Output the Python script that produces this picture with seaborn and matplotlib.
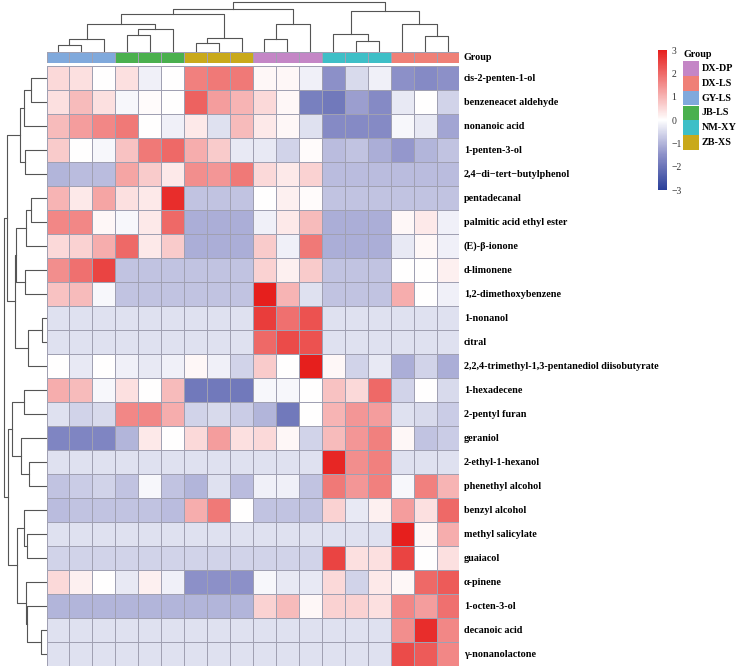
import numpy as np
import pandas as pd
import matplotlib
matplotlib.use("Agg")
import matplotlib.pyplot as plt
from matplotlib.colors import LinearSegmentedColormap, ListedColormap
from matplotlib.patches import Rectangle
import seaborn as sns

# ---------------- data ----------------
compounds = [
    "cis-2-penten-1-ol", "benzeneacet aldehyde", "nonanoic acid", "1-penten-3-ol",
    "2,4\u2212di\u2212tert\u2212butylphenol", "pentadecanal", "palmitic acid ethyl ester",
    "(E)-\u03b2-ionone", "d-limonene", "1,2-dimethoxybenzene", "1-nonanol", "citral",
    "2,2,4-trimethyl-1,3-pentanediol diisobutyrate", "1-hexadecene", "2-pentyl furan",
    "geraniol", "2-ethyl-1-hexanol", "phenethyl alcohol", "benzyl alcohol",
    "methyl salicylate", "guaiacol", "\u03b1-pinene", "1-octen-3-ol", "decanoic acid",
    "\u03b3-nonanolactone",
]
samples = ["GY1", "GY2", "GY3", "JB1", "JB2", "JB3", "ZB1", "ZB2", "ZB3",
           "DP1", "DP2", "DP3", "NM1", "NM2", "NM3", "LS1", "LS2", "LS3"]
sample_group = ["GY-LS", "GY-LS", "GY-LS", "JB-LS", "JB-LS", "JB-LS",
                "ZB-XS", "ZB-XS", "ZB-XS", "DX-DP", "DX-DP", "DX-DP",
                "NM-XY", "NM-XY", "NM-XY", "DX-LS", "DX-LS", "DX-LS"]
group_names = ["DX-DP", "DX-LS", "GY-LS", "JB-LS", "NM-XY", "ZB-XS"]
group_colors = ["#c486c6", "#ef8077", "#80a9dc", "#4ab04e", "#3ebfc7", "#c9a91b"]

r_cis2pentenol   = [0.5, 0.4, 0.0, 0.4, -0.2, 0.0, 1.7, 1.8, 1.8, 0.1, 0.1, -0.2, -1.5, -0.5, -0.2, -1.5, -1.6, -1.5]
r_benzacetald    = [0.4, 0.9, 0.4, -0.1, 0.05, 0.0, 2.1, 1.3, 1.0, 0.5, 0.1, -1.8, -1.9, -1.3, -1.6, -0.3, 0.0, -0.6]
r_nonanoic       = [0.9, 1.3, 1.6, 1.8, 0.0, -0.2, 0.3, -0.4, 0.9, 0.3, 0.1, -0.4, -1.6, -1.6, -1.6, -0.1, -0.3, -1.2]
r_pentenol       = [0.7, 0.0, -0.1, 0.8, 1.8, 2.0, 1.1, 0.7, -0.3, -0.3, -0.6, 0.05, -0.9, -0.8, -1.1, -1.4, -1.0, -0.8]
r_dtbp           = [-1.0, -0.9, -0.9, 1.2, 0.7, 0.3, 1.5, 1.4, 1.8, 0.5, 0.3, 0.6, -0.9, -0.9, -0.9, -0.9, -0.9, -0.9]
r_pentadecanal   = [1.0, 0.3, 1.2, 0.4, 0.3, 2.8, -0.8, -0.8, -0.8, 0.0, 0.2, 0.05, -0.8, -0.8, -0.8, -0.8, -0.8, -0.8]
r_palmitic       = [1.6, 1.6, 0.1, -0.1, 0.3, 2.0, -1.1, -1.1, -1.1, -0.2, 0.3, 0.9, -1.1, -1.1, -1.1, 0.1, 0.3, -0.2]
r_ionone         = [0.5, 0.6, 1.1, 2.0, 0.3, 0.7, -1.1, -1.1, -1.1, 0.7, -0.2, 1.8, -1.1, -1.1, -1.1, -0.3, 0.1, -0.2]
r_limonene       = [1.5, 1.9, 2.5, -0.8, -0.8, -0.8, -0.8, -0.8, -0.8, 0.6, 0.2, 0.7, -0.8, -0.8, -0.8, 0.0, 0.0, 0.2]
r_dimethoxy      = [0.8, 0.9, -0.1, -0.8, -0.8, -0.8, -0.8, -0.8, -0.8, 3.0, 1.0, -0.4, -0.8, -0.8, -0.8, 1.1, 0.0, -0.2]
r_nonanol        = [-0.4, -0.4, -0.4, -0.4, -0.4, -0.4, -0.4, -0.4, -0.4, 2.6, 1.9, 2.3, -0.4, -0.4, -0.4, -0.4, -0.4, -0.4]
r_citral         = [-0.4, -0.4, -0.4, -0.4, -0.4, -0.4, -0.4, -0.4, -0.4, 2.0, 2.4, 2.3, -0.4, -0.4, -0.4, -0.4, -0.4, -0.4]
r_txib           = [0.0, -0.3, 0.0, -0.2, -0.3, -0.2, 0.1, -0.2, -0.6, 0.7, 0.0, 3.2, 0.1, -0.6, -0.3, -1.1, -0.6, -1.1]
r_hexadecene     = [1.1, 0.9, -0.1, 0.4, 0.0, 0.9, -1.9, -1.9, -1.9, -0.1, -0.1, 0.0, 0.8, 0.5, 2.0, -0.6, 0.0, -0.5]
r_pentylfuran    = [-0.4, -0.6, -0.5, 1.6, 1.6, 1.1, -0.6, -0.5, -0.7, -1.0, -1.9, 0.0, 1.0, 1.4, 1.3, -0.4, -0.5, -0.7]
r_geraniol       = [-1.7, -1.7, -1.7, -1.0, 0.3, 0.0, 0.5, 1.3, 0.4, 0.5, 0.1, -0.6, 0.9, 1.4, 1.7, 0.1, -0.8, -0.7]
r_ethylhexanol   = [-0.4, -0.4, -0.4, -0.4, -0.4, -0.4, -0.4, -0.4, -0.4, -0.4, -0.4, -0.4, 2.9, 1.5, 1.7, -0.4, -0.4, -0.4]
r_phenethyl      = [-0.8, -0.7, -0.6, -0.8, -0.1, -0.8, -1.0, -0.4, -0.9, -0.2, -0.2, -0.8, 1.8, 1.4, 1.7, -0.1, 1.7, 1.0]
r_benzylalc      = [-0.9, -0.8, -0.8, -0.8, -0.8, -0.9, 1.1, 1.8, 0.0, -0.8, -0.8, -0.8, 0.6, -0.3, 0.2, 1.3, 0.4, 2.0]
r_methylsal      = [-0.4, -0.4, -0.4, -0.4, -0.4, -0.4, -0.4, -0.4, -0.4, -0.4, -0.4, -0.4, -0.4, -0.4, -0.4, 3.2, 0.1, 1.1]
r_guaiacol       = [-0.6, -0.6, -0.6, -0.6, -0.6, -0.6, -0.6, -0.6, -0.6, -0.6, -0.6, -0.6, 2.5, 0.4, 0.4, 2.5, 0.0, 0.4]
r_pinene         = [0.5, 0.2, 0.0, -0.3, 0.2, -0.2, -1.5, -1.5, -1.5, -0.1, -0.3, -0.3, 0.5, -0.6, 0.3, 0.1, 2.0, 2.2]
r_octenol        = [-1.0, -1.0, -1.0, -1.0, -1.0, -1.0, -1.0, -1.0, -1.0, 0.6, 0.9, 0.1, 0.6, 0.6, 0.4, 1.6, 1.3, 1.9]
r_decanoic       = [-0.4, -0.4, -0.4, -0.4, -0.4, -0.4, -0.4, -0.4, -0.4, -0.4, -0.4, -0.4, -0.4, -0.4, -0.4, 1.5, 2.8, 1.6]
r_nonanolactone  = [-0.4, -0.4, -0.4, -0.4, -0.4, -0.4, -0.4, -0.4, -0.4, -0.4, -0.4, -0.4, -0.4, -0.4, -0.4, 2.4, 2.2, 1.6]

rows = [r_cis2pentenol, r_benzacetald, r_nonanoic, r_pentenol, r_dtbp, r_pentadecanal,
        r_palmitic, r_ionone, r_limonene, r_dimethoxy, r_nonanol, r_citral, r_txib,
        r_hexadecene, r_pentylfuran, r_geraniol, r_ethylhexanol, r_phenethyl, r_benzylalc,
        r_methylsal, r_guaiacol, r_pinene, r_octenol, r_decanoic, r_nonanolactone]

# dendrogram merges: (child a, child b, height); ids >= n refer to earlier merges
col_merges = [(0, 1, 20), (18, 2, 38), (3, 4, 47), (20, 5, 65), (19, 21, 82),
              (6, 7, 25), (23, 8, 40), (22, 24, 110), (9, 10, 38), (26, 11, 82),
              (25, 27, 125), (13, 14, 30), (12, 29, 50), (16, 17, 45), (15, 31, 82),
              (30, 32, 120), (28, 33, 145)]
row_merges = [(0, 1, 16), (25, 2, 22.7), (3, 4, 22), (26, 27, 26.7), (5, 6, 15.3),
              (29, 7, 21), (8, 9, 22), (30, 31, 31), (10, 11, 4.3), (33, 12, 18.7),
              (32, 34, 32), (28, 35, 39.3), (13, 14, 22.7), (16, 17, 17.7), (15, 38, 26),
              (37, 39, 34.3), (19, 20, 20), (18, 41, 22.7), (23, 24, 6), (22, 43, 19.3),
              (21, 44, 21), (42, 45, 30), (40, 46, 38.5), (36, 47, 43)]

# ---------------- figure ----------------
W, H = 736, 666
fig = plt.figure(figsize=(W / 100, H / 100), dpi=100)
fig.patch.set_facecolor("white")
SERIF = ["Liberation Serif", "DejaVu Serif"]
FS = 7.3


def px(l, t, r, b):
    return [l / W, 1 - b / H, (r - l) / W, (b - t) / H]


df = pd.DataFrame(rows, index=compounds, columns=samples)
cmap = LinearSegmentedColormap.from_list(
    "bwr_custom",
    [(0.0, "#2a3f9a"), (0.25, "#8c90c8"), (0.5, "#ffffff"), (1.0, "#e61f1d")])

HL, HR, HT, HB = 46.5, 459.5, 65.5, 665.5
ax_hm = fig.add_axes(px(HL, HT, HR, HB))
cax = fig.add_axes(px(658, 50, 667, 190))
sns.heatmap(df, ax=ax_hm, cmap=cmap, vmin=-3, vmax=3, linewidths=0.6,
            linecolor="#a0a0b2", cbar_ax=cax, xticklabels=False, yticklabels=True)
ax_hm.yaxis.tick_right()
ax_hm.tick_params(axis="y", length=0, pad=3)
for lab in ax_hm.get_yticklabels():
    lab.set_rotation(0)
    lab.set_fontfamily(SERIF)
    lab.set_fontweight("bold")
    lab.set_fontsize(FS)
ax_hm.set_xlabel("")
ax_hm.set_ylabel("")

cb = ax_hm.collections[0].colorbar
cb.set_ticks([-3, -2, -1, 0, 1, 2, 3])
cb.outline.set_visible(False)
cax.tick_params(length=0, pad=3)
for lab in cax.get_yticklabels():
    lab.set_fontfamily(SERIF)
    lab.set_fontsize(7)
    lab.set_color("#333333")

# group color bar
ax_grp = fig.add_axes(px(HL, 51.5, HR, 63))
codes = pd.DataFrame([[group_names.index(g) for g in sample_group]], columns=samples)
sns.heatmap(codes, ax=ax_grp, cmap=ListedColormap(group_colors), vmin=-0.5,
            vmax=len(group_names) - 0.5, cbar=False, linewidths=0.6,
            linecolor="#a0a0b2", xticklabels=False, yticklabels=False)
ax_grp.set_xlabel("")
ax_grp.set_ylabel("")
fig.text((HR + 3.5) / W, 1 - 57.5 / H, "Group", fontfamily=SERIF, fontweight="bold",
         fontsize=FS, va="center", ha="left")


def draw_dendro(ax, merges, n, top):
    pos = {i: i + 0.5 for i in range(n)}
    hgt = {i: 0.0 for i in range(n)}
    for k, (a, b, h) in enumerate(merges):
        xa, xb, ha, hb = pos[a], pos[b], hgt[a], hgt[b]
        if top:
            ax.plot([xa, xa, xb, xb], [ha, h, h, hb], color="#555555", lw=0.8)
        else:
            ax.plot([ha, h, h, hb], [xa, xa, xb, xb], color="#555555", lw=0.8)
        pos[n + k] = (xa + xb) / 2
        hgt[n + k] = h


ax_cd = fig.add_axes(px(HL, 1, HR, 51.5))
draw_dendro(ax_cd, col_merges, len(samples), True)
ax_cd.set_xlim(0, len(samples))
ax_cd.set_ylim(0, 148)
ax_cd.axis("off")

ax_rd = fig.add_axes(px(1, HT, HL, HB))
draw_dendro(ax_rd, row_merges, len(compounds), False)
ax_rd.set_ylim(len(compounds), 0)
ax_rd.set_xlim(45.5, 0)
ax_rd.axis("off")

# group legend
ax_lg = fig.add_axes(px(683, 61, 699, 150))
ax_lg.set_xlim(0, 1)
ax_lg.set_ylim(len(group_names), 0)
for i, (g, c) in enumerate(zip(group_names, group_colors)):
    ax_lg.add_patch(Rectangle((0, i), 1, 1, facecolor=c, edgecolor="none"))
    fig.text(702 / W, 1 - (61 + (i + 0.5) * 89 / 6) / H, g, fontfamily=SERIF,
             fontweight="bold", fontsize=FS, va="center", ha="left")
ax_lg.axis("off")
fig.text(683 / W, 1 - 54.5 / H, "Group", fontfamily=SERIF, fontweight="bold",
         fontsize=FS, va="center", ha="left")

fig.savefig("out.png", dpi=100, facecolor="white")
